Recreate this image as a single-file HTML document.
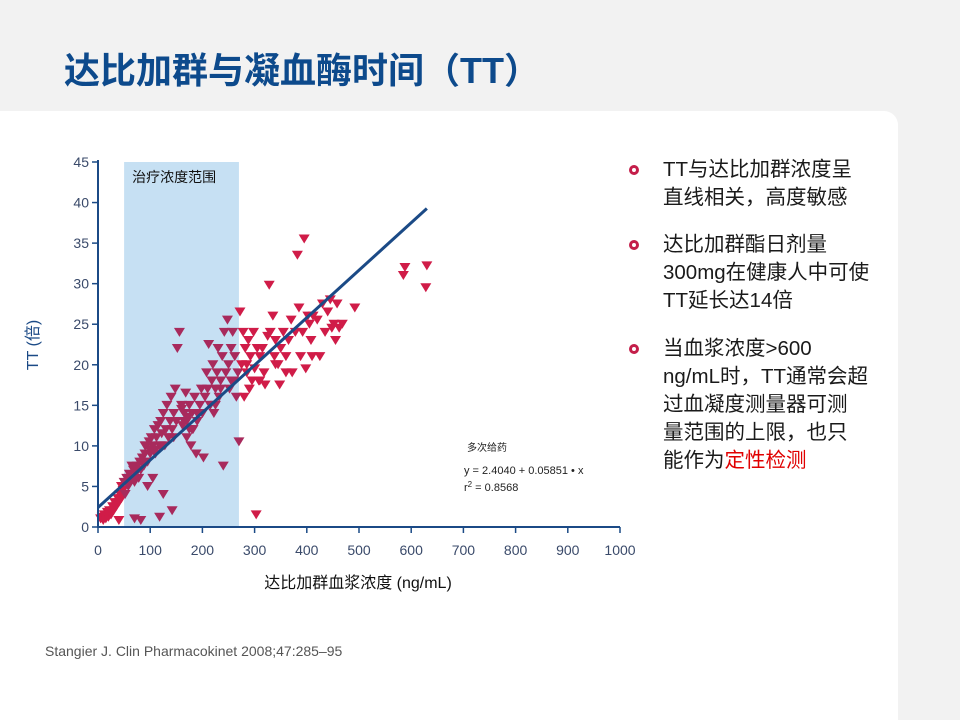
<!DOCTYPE html>
<html><head><meta charset="utf-8"><style>
body{margin:0;width:960px;height:720px;overflow:hidden;background:#f2f2f2;font-family:"Liberation Sans","Noto Sans CJK SC",sans-serif;position:relative}
.panel{position:absolute;left:0;top:111px;width:898px;height:609px;background:#fff;border-top-right-radius:14px}
h1{position:absolute;left:64px;top:42px;margin:0;font-size:36px;font-weight:bold;color:#0d4a8c;font-family:"Liberation Sans","Noto Sans CJK SC",sans-serif}
.bul{position:absolute;left:638px;font-size:20.5px;color:#1a1a1a;line-height:28px;width:260px}
.bul .dot{position:absolute;left:-9px;top:9px;border:3px solid #c41e4a;border-radius:50%;box-sizing:content-box;width:4px;height:4px}
.bul span.t{display:block;margin-left:25px}
.cite{position:absolute;left:45px;top:643px;font-size:14px;color:#555}
</style></head><body>
<div class="panel"></div>
<h1>达比加群与凝血酶时间（TT）</h1>
<svg id="chart" width="960" height="720" style="position:absolute;left:0;top:0"></svg>
<div class="bul" style="top:156px"><div class="dot"></div><span class="t">TT与达比加群浓度呈<br>直线相关，高度敏感</span></div>
<div class="bul" style="top:231px"><div class="dot"></div><span class="t">达比加群酯日剂量<br>300mg在健康人中可使<br>TT延长达14倍</span></div>
<div class="bul" style="top:335px"><div class="dot"></div><span class="t">当血浆浓度&gt;600<br>ng/mL时，TT通常会超<br>过血凝度测量器可测<br>量范围的上限，也只<br>能作为<span style="color:#e00000">定性检测</span></span></div>
<div class="cite">Stangier J. Clin Pharmacokinet 2008;47:285–95</div>
<script>
const xTicks=[0,100,200,300,400,500,600,700,800,900,1000];
const yTicks=[0,5,10,15,20,25,30,35,40,45];
const bandRange=[50,270];
const regIntercept=2.404, regSlope=0.05851, regXMax=630;
const conc=[5,8,10,12,15,18,20,22,25,28,30,32,35,38,40,42,45,45,48,50,52,55,58,60,62,65,68,70,72,75,78,80,82,85,88,90,92,95,98,100,102,105,108,110,112,115,118,120,122,125,128,130,132,135,138,140,142,145,148,150,152,156,160,162,165,168,170,172,175,178,180,182,185,188,190,195,198,200,202,205,208,210,212,215,218,220,222,225,228,230,232,235,238,240,242,245,248,250,252,255,258,260,262,265,268,270,272,275,278,280,282,285,288,290,292,295,298,300,303,305,308,310,315,318,320,325,328,330,335,338,340,345,348,350,355,360,365,370,372,378,382,385,388,392,395,398,402,405,408,410,412,420,425,430,435,440,445,448,452,455,458,462,468,492,585,588,628,630,40,70,82,118,142,125,95,105,60,75,88,65,110,135,150,175,190,215,235,255,285,310,340,360,120,145,165,180,200,225,160,170,100,90];
const tt=[1,1.2,0.8,1.5,1,1.8,1.2,2,1.5,2.5,2,3,2.5,3.5,3,4,3.5,5,4.5,5.5,4,6,5,6.5,5.5,6,7,5.5,6.5,7.5,6,8,7,8.5,7.5,9,10,8,10.5,9,11,10,12,9.5,11,12.5,10,13,11.5,14,10,12,15,11,13,16,12,14,17,13,22,24,15,12.5,14,16.5,11,13.5,15,10,14,12,16,9,13,15,17,14,8.5,16,19,17,22.5,15,18,20,14,17,19,22,16,18,21,7.5,24,19,25.5,20,17,22,24,18,21,16,19,10.5,26.5,20,24,16,22,19,23,17,21,18,24,19.5,1.5,22,18,21,22,19,17.5,23.5,29.8,24,26,21,23,20,17.5,22,24,21,23,25.5,19,24,33.5,27,21,24,35.5,19.5,26,25,23,21,26,25.5,21,27.5,24,26.5,28,24.5,25,23,27.5,24.5,25,27,31,32,29.5,32.2,0.8,1,0.8,1.2,2,4,5,6,6,7,8,7.5,9,11,13,12,14,15,17,18,20,18,20,19,10,11,13,12,14,15,14.5,13,9.5,10];
const NS="http://www.w3.org/2000/svg";
const svg=document.getElementById('chart');
const X0=98,X1=620,Y0=527,Y1=162;
const sx=v=>X0+(v-xTicks[0])/(xTicks[xTicks.length-1]-xTicks[0])*(X1-X0);
const sy=v=>Y0-(v-yTicks[0])/(yTicks[yTicks.length-1]-yTicks[0])*(Y0-Y1);
function mk(tag,attrs){const e=document.createElementNS(NS,tag);for(const k in attrs)e.setAttribute(k,attrs[k]);svg.appendChild(e);return e;}
const band=mk('rect',{x:sx(bandRange[0]),y:Y1,width:sx(bandRange[1])-sx(bandRange[0]),height:Y0-Y1,fill:'#c6e0f3'});


const bl=mk('text',{x:sx(bandRange[0])+8,y:Y1+20,'font-size':14,fill:'#111'});bl.textContent='治疗浓度范围';


for(let i=0;i<conc.length;i++){
 const x=sx(conc[i]),y=sy(tt[i]);
 const inBand=conc[i]>=bandRange[0]&&conc[i]<=bandRange[1];
 const p=mk('path',{d:`M${x-5.5},${y-4.5}L${x+5.5},${y-4.5}L${x},${y+4.5}Z`,fill:inBand?'#a82a5c':'#d01c48'});
 
 
}
const rl=mk('line',{x1:sx(0),y1:sy(regIntercept),x2:sx(regXMax),y2:sy(regIntercept+regSlope*regXMax),stroke:'#1b4a86','stroke-width':3});


mk('line',{x1:X0,y1:Y1-2,x2:X0,y2:Y0+1,stroke:'#1b4a86','stroke-width':2});
mk('line',{x1:X0-1,y1:Y0,x2:X1,y2:Y0,stroke:'#1b4a86','stroke-width':2});
yTicks.forEach(v=>{mk('line',{x1:X0-6,y1:sy(v),x2:X0,y2:sy(v),stroke:'#1b4a86','stroke-width':1.5});
 const t=mk('text',{x:X0-9,y:sy(v)+5,'text-anchor':'end','font-size':14,fill:'#3a4a6a'});t.textContent=v;
 
 });
xTicks.forEach(v=>{mk('line',{x1:sx(v),y1:Y0,x2:sx(v),y2:Y0+6,stroke:'#1b4a86','stroke-width':1.5});
 const t=mk('text',{x:sx(v),y:Y0+28,'text-anchor':'middle','font-size':14,fill:'#3a4a6a'});t.textContent=v;
 
 });
const xt=mk('text',{x:358,y:588,'text-anchor':'middle','font-size':16,fill:'#111'});xt.textContent='达比加群血浆浓度 (ng/mL)';


const yt=mk('text',{x:0,y:0,'text-anchor':'middle','font-size':16,fill:'#1b4a86',transform:'translate(38,345) rotate(-90)'});yt.textContent='TT (倍)';


const a1=mk('text',{x:467,y:451,'font-size':10,fill:'#222'});a1.textContent='多次给药';


const a2=mk('text',{x:464,y:474,'font-size':11,fill:'#222'});a2.textContent='y = 2.4040 + 0.05851 • x';


const a3=mk('text',{x:464,y:491,'font-size':11,fill:'#222'});a3.innerHTML='r<tspan dy="-4" font-size="8">2</tspan><tspan dy="4"> = 0.8568</tspan>';


</script>
</body></html>
